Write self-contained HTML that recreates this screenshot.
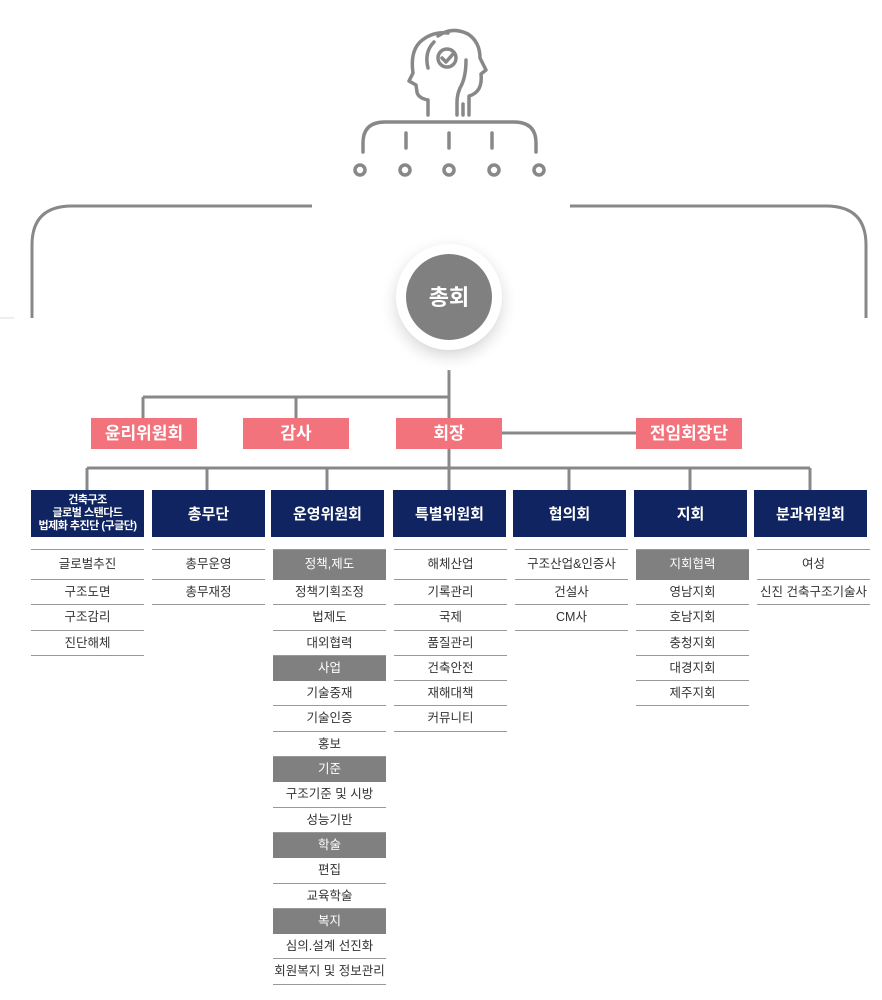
<!DOCTYPE html>
<html><head><meta charset="utf-8"><style>
body{margin:0;background:#fff;width:882px;height:1000px;position:relative;overflow:hidden;font-family:"Liberation Sans","Noto Sans CJK KR",sans-serif}
.a{position:absolute}
.pink{position:absolute;background:#f2737c;color:#fff;font-weight:bold;font-size:17px;text-align:center;height:31px;line-height:31px;top:418px}
.nav{position:absolute;top:490px;height:47px;width:113px;background:#0f2460;color:#fff;font-weight:bold;font-size:15px;display:flex;align-items:center;justify-content:center;text-align:center}
.col{position:absolute;top:549px;width:113px;border-top:1px solid #999}
.r{height:24.3px;line-height:24.3px;border-bottom:1px solid #999;text-align:center;font-size:12.5px;color:#333;white-space:nowrap}
.r.f{height:29px;line-height:29px}
.h{background:#808080;color:#fff;border-bottom:1px solid #808080}
</style></head><body>
<svg class="a" style="left:0;top:0" width="882" height="1000">
<g fill="none" stroke="#888" stroke-width="3.5" stroke-linecap="round" stroke-linejoin="round">
<path d="M428 115 V100 Q418 98 417 92 L416 85 L409 81 L413 73 Q410 52 420 42 Q432 31 448 33"/>
<path d="M438 36 Q452 26 468 34 Q480 42 480 58 L486 70 L481 74 Q483 92 469 96 V115"/>
<path d="M434 42 Q424 52 428 68"/>
<path d="M466 60 Q466 78 460 88 Q457 95 457 102 V115"/>
<path d="M463 104 V115"/>
<circle cx="447" cy="58" r="9"/>
<path d="M442 58 l4 4 l7 -8"/>
<path d="M363 152 V143 Q363 122 385 122 H514 Q536 122 536 143 V152"/>
<path d="M406 133 V148 M449 133 V148 M492 133 V148"/>
</g>
<g fill="none" stroke="#888" stroke-width="3.5">
<circle cx="360" cy="170" r="5"/><circle cx="405" cy="170" r="5"/><circle cx="449" cy="170" r="5"/><circle cx="494" cy="170" r="5"/><circle cx="539" cy="170" r="5"/>
</g>
<g fill="none" stroke="#888" stroke-width="3">
<path d="M32 318 V245 Q32 206 72 206 H312"/>
<path d="M570 206 H826 Q866 206 866 245 V318"/>
<path d="M449 370 V490 M143 397 H449 M143 397 V418 M296 397 V418 M502 433 H636 M87 468 H810 M87 468 V490 M207 468 V490 M327 468 V490 M569 468 V490 M690 468 V490 M810 468 V490"/>
</g>
<line x1="0" y1="318" x2="14" y2="318" stroke="#ddd"/>
<defs><radialGradient id="g"><stop offset="0.6" stop-color="#ccc"/><stop offset="1" stop-color="#fff" stop-opacity="0"/></radialGradient></defs>
<circle cx="449" cy="303" r="70" fill="url(#g)"/>
<circle cx="449" cy="297" r="53" fill="#fff"/>
<circle cx="449" cy="297" r="43" fill="#808080"/>
<text x="449" y="305" fill="#fff" font-size="22" font-weight="bold" text-anchor="middle" font-family="Liberation Sans,Noto Sans CJK KR,sans-serif">총회</text>
</svg>
<div class="pink" style="left:91px;width:106px">윤리위원회</div>
<div class="pink" style="left:243px;width:106px">감사</div>
<div class="pink" style="left:396px;width:106px">회장</div>
<div class="pink" style="left:636px;width:106px">전임회장단</div>

<div class="nav" style="left:31px;font-size:11px;line-height:13px;letter-spacing:-0.5px">건축구조<br>글로벌 스탠다드<br>법제화 추진단 (구글단)</div>
<div class="nav" style="left:152px">총무단</div>
<div class="nav" style="left:271px">운영위원회</div>
<div class="nav" style="left:393px">특별위원회</div>
<div class="nav" style="left:513px">협의회</div>
<div class="nav" style="left:634px">지회</div>
<div class="nav" style="left:754px">분과위원회</div>

<div class="col" style="left:31px"><div class="r f">글로벌추진</div><div class="r">구조도면</div><div class="r">구조감리</div><div class="r">진단해체</div></div>
<div class="col" style="left:152px"><div class="r f">총무운영</div><div class="r">총무재정</div></div>
<div class="col" style="left:273px"><div class="r f h">정책,제도</div><div class="r">정책기획조정</div><div class="r">법제도</div><div class="r">대외협력</div><div class="r h">사업</div><div class="r">기술중재</div><div class="r">기술인증</div><div class="r">홍보</div><div class="r h">기준</div><div class="r">구조기준 및 시방</div><div class="r">성능기반</div><div class="r h">학술</div><div class="r">편집</div><div class="r">교육학술</div><div class="r h">복지</div><div class="r">심의.설계 선진화</div><div class="r">회원복지 및 정보관리</div></div>
<div class="col" style="left:394px"><div class="r f">해체산업</div><div class="r">기록관리</div><div class="r">국제</div><div class="r">품질관리</div><div class="r">건축안전</div><div class="r">재해대책</div><div class="r">커뮤니티</div></div>
<div class="col" style="left:515px"><div class="r f">구조산업&amp;인증사</div><div class="r">건설사</div><div class="r">CM사</div></div>
<div class="col" style="left:636px"><div class="r f h">지회협력</div><div class="r">영남지회</div><div class="r">호남지회</div><div class="r">충청지회</div><div class="r">대경지회</div><div class="r">제주지회</div></div>
<div class="col" style="left:757px"><div class="r f">여성</div><div class="r">신진 건축구조기술사</div></div>
</body></html>
